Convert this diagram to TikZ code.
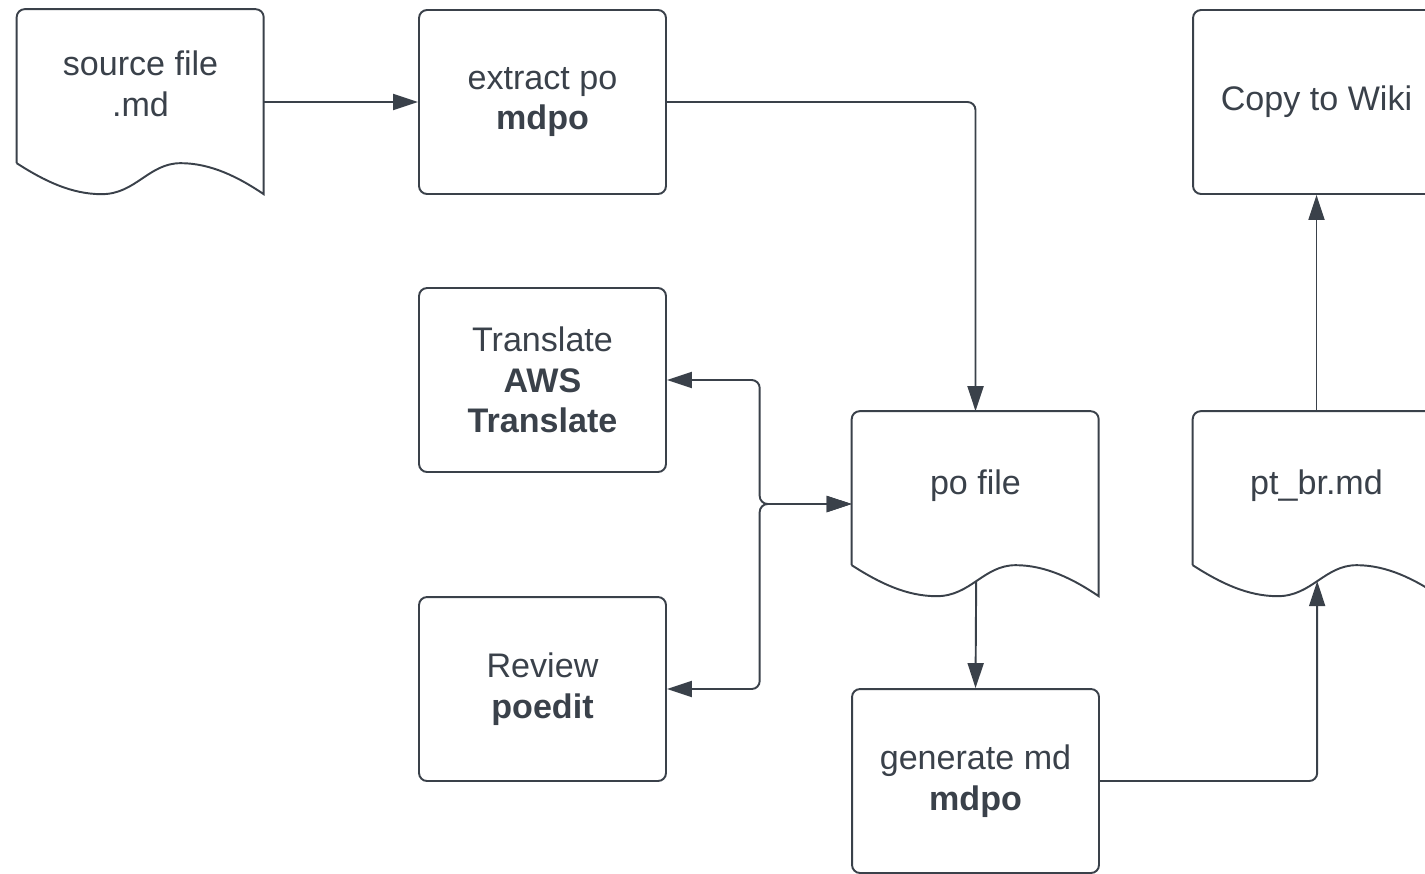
\documentclass[tikz,border=0pt]{standalone}
\usepackage{fontspec}
\setmainfont{Liberation Sans}
\usepackage{tikz}
\usetikzlibrary{%
  positioning,%
  calc,%
  arrows.meta%
}
\definecolor{ink}{HTML}{3A414A}
\newcommand{\flowfont}{\fontsize{19.4}{23.2}\selectfont}
\tikzset{
  procbox/.style={draw=ink, line width=1.1pt, rounded corners=0.16cm, minimum width=4.94cm, minimum height=3.68cm, align=center, text=ink, font=\flowfont},
  docbox/.style={minimum width=4.94cm, minimum height=3.7cm, inner sep=0pt},
  doctext/.style={align=center, text=ink, font=\flowfont},
  flow/.style={draw=ink, line width=1.1pt, rounded corners=0.16cm, >={Triangle[length=0.5cm,width=0.32cm]}}
}
\newcommand{\docoutline}[1]{%
  \begin{scope}[shift={(#1.north west)}]
    \draw[ink, line width=1.1pt] (0,154) -- (0,8) arc[start angle=180, end angle=90, radius=0.16cm]
      -- (239,0) arc[start angle=90, end angle=0, radius=0.16cm] -- (247,185)
      .. controls (222,168) and (194,154) .. (164,154)
      .. controls (132,154) and (119,185) .. (85,185)
      .. controls (55,185) and (28,172) .. (0,154);
    \coordinate (#1-w) at (124.5,170);
  \end{scope}}

\begin{document}
\begin{tikzpicture}[x=0.02cm, y=-0.02cm]
	\useasboundingbox (0,0) rectangle (1425,873);
	\clip (0,0) rectangle (1425,873);
	%Nodes
	\node[docbox] (src) at (140.5,102) {};
	\node[doctext] (src-t) at ([yshift=0.36cm]src.center) {source file\\.md};
	\node[procbox] (extract) at (542.5,102) {extract po\\\textbf{mdpo}};
	\node[procbox] (translate) at (542.5,380) {Translate\\\textbf{AWS}\\\textbf{Translate}};
	\node[procbox] (review) at (542.5,689) {Review\\\textbf{poedit}};
	\node[docbox] (po) at (975.5,504) {};
	\node[doctext] (po-t) at ([yshift=0.37cm]po.center) {po file};
	\node[procbox] (gen) at (975.5,781) {generate md\\\textbf{mdpo}};
	\node[docbox] (ptbr) at (1316.5,504) {};
	\node[doctext] (ptbr-t) at ([yshift=0.37cm]ptbr.center) {pt\_br.md};
	\node[procbox] (wiki) at (1316.5,102) {Copy to Wiki};
	%Document shapes
	\docoutline{src}
	\docoutline{po}
	\docoutline{ptbr}
	\coordinate (J) at ([xshift=-1.84cm]po.west);
	%Arrows
	\draw[flow,->] (src.east) -- (extract.west);
	\draw[flow,->] (extract.east) -| (po.north);
	\draw[flow,<->] (translate.east) -| (J) -- (po.west);
	\draw[flow,<->] (review.east) -| (J) -- (po.west);
	\draw[flow,->] (po-w) -- (gen.north);
	\draw[flow,->] (gen.east) -| (ptbr-w);
	\draw[flow,->] (ptbr.north) -- (wiki.south);
\end{tikzpicture}
\end{document}
